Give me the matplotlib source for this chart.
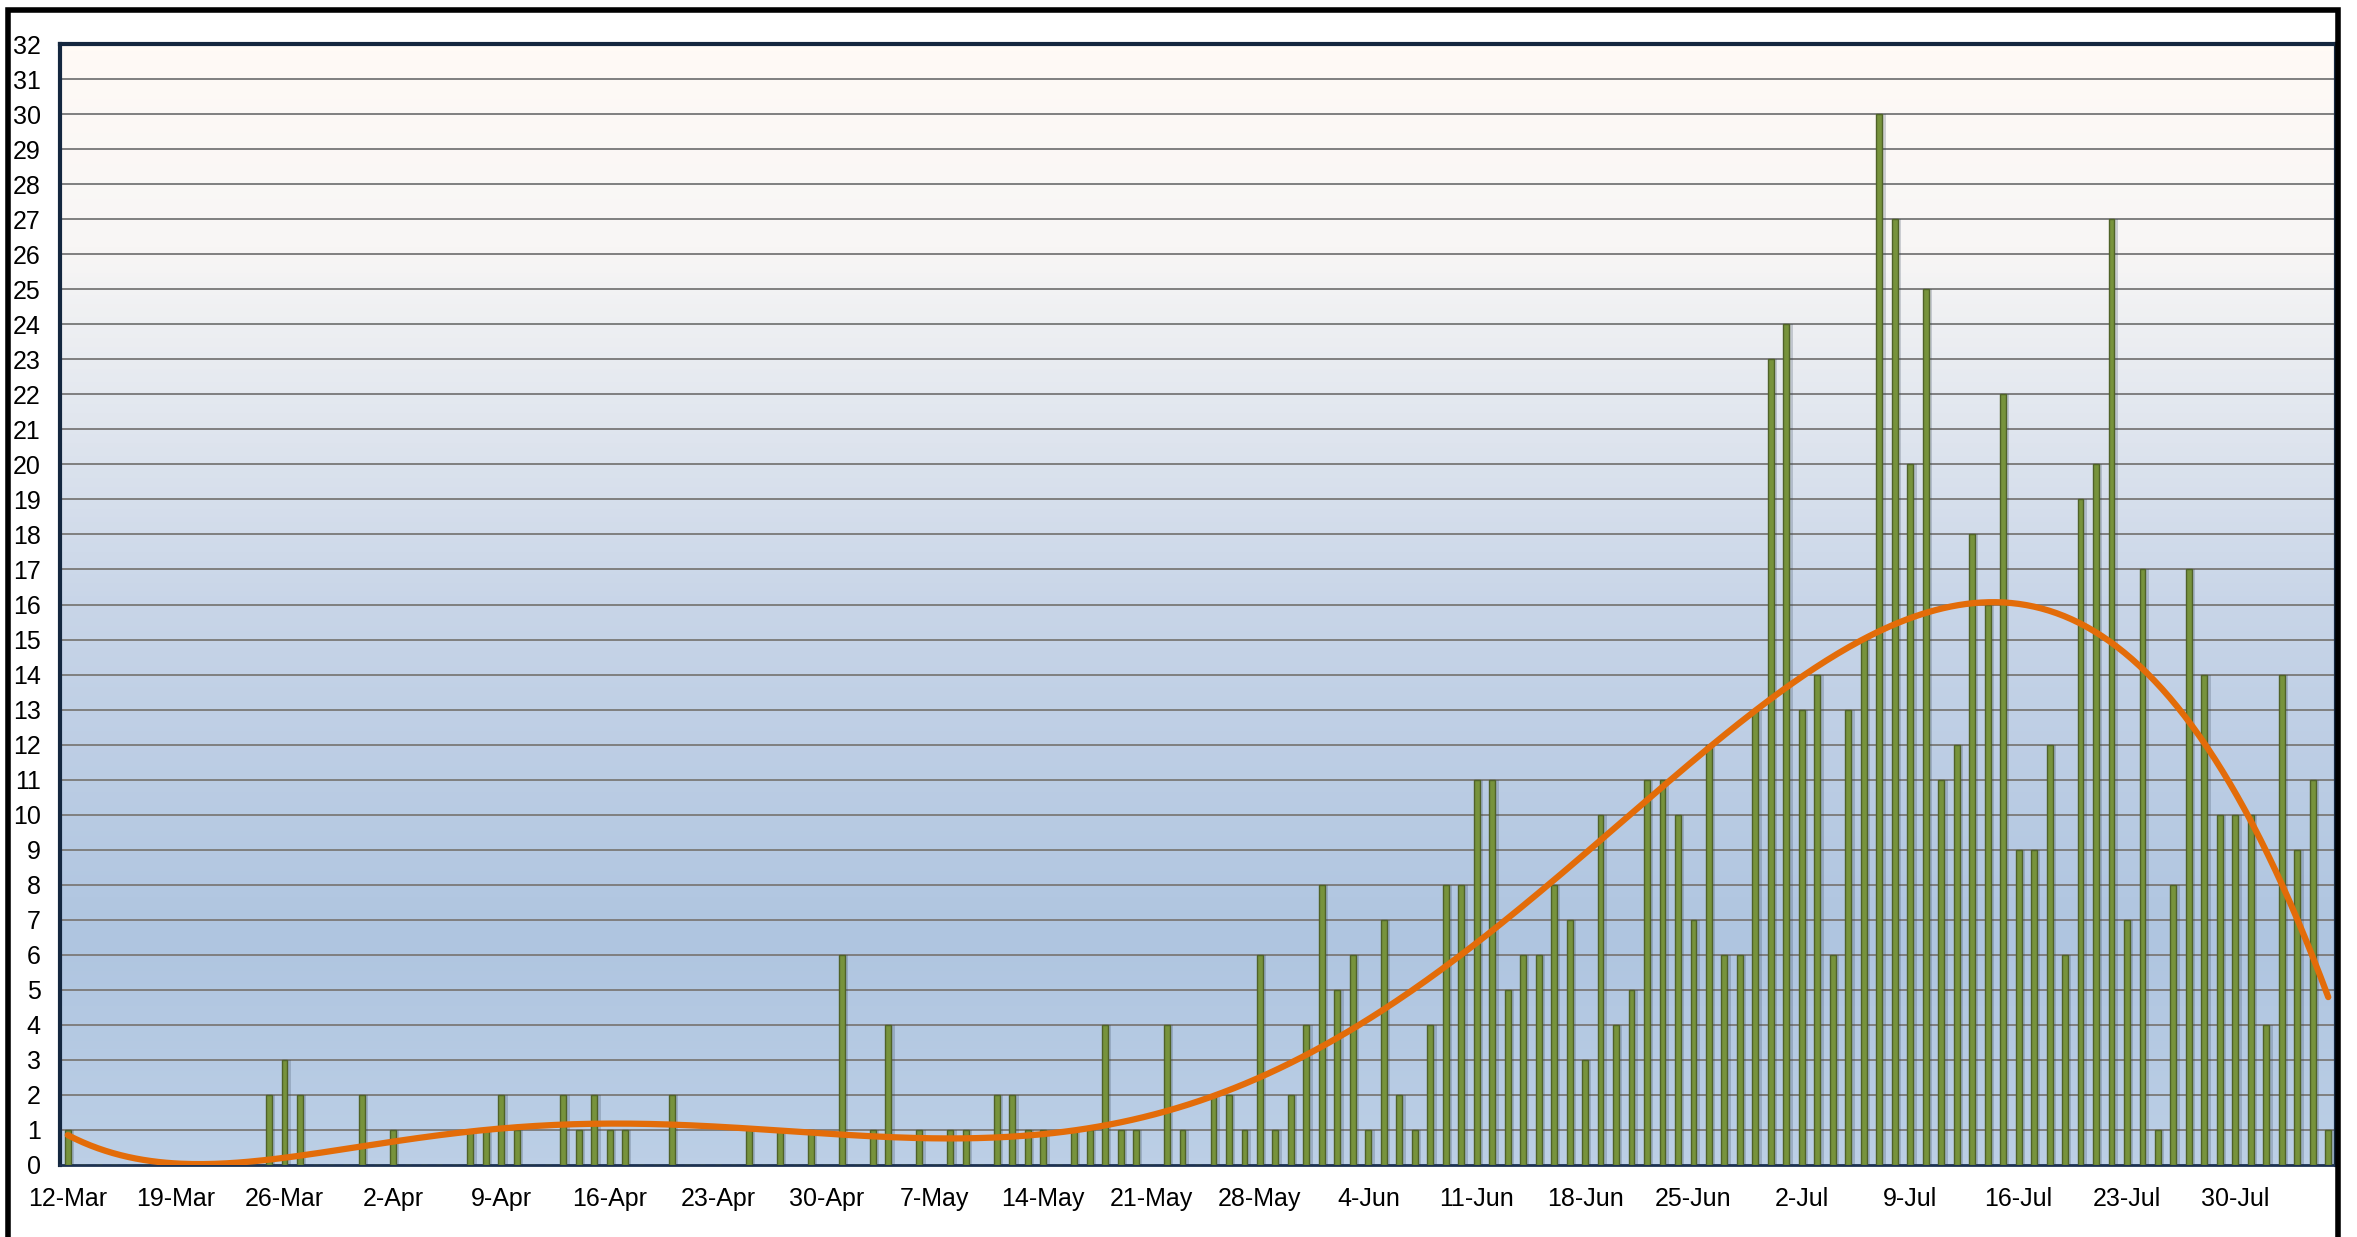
import numpy as np
import matplotlib
matplotlib.use("Agg")
import matplotlib.pyplot as plt
from matplotlib.colors import LinearSegmentedColormap
from matplotlib.patches import Rectangle

# daily counts, 12-Mar .. 5-Aug
mar = [1, 0, 0, 0, 0, 0, 0, 0, 0, 0, 0, 0, 0, 2, 3, 2, 0, 0, 0, 2]
apr = [0, 1, 0, 0, 0, 0, 1, 1, 2, 1, 0, 0, 2, 1, 2, 1, 1, 0, 0, 2,
       0, 0, 0, 0, 1, 0, 1, 0, 1, 0]
may = [6, 0, 1, 4, 0, 1, 0, 1, 1, 0, 2, 2, 1, 1, 0, 1, 1, 4, 1, 1,
       0, 4, 1, 0, 2, 2, 1, 6, 1, 2, 4]
jun = [8, 5, 6, 1, 7, 2, 1, 4, 8, 8, 11, 11, 5, 6, 6, 8, 7, 3, 10, 4,
       5, 11, 11, 10, 7, 12, 6, 6, 13, 23]
jul = [24, 13, 14, 6, 13, 15, 30, 27, 20, 25, 11, 12, 18, 16, 22, 9, 9, 12, 6, 19,
       20, 27, 7, 17, 1, 8, 17, 14, 10, 10, 10]
aug = [4, 14, 9, 11, 1]

counts = np.array(mar + apr + may + jun + jul + aug, dtype=float)
days = np.arange(len(counts))

tick_labels = ["12-Mar", "19-Mar", "26-Mar", "2-Apr", "9-Apr", "16-Apr", "23-Apr",
               "30-Apr", "7-May", "14-May", "21-May", "28-May", "4-Jun", "11-Jun",
               "18-Jun", "25-Jun", "2-Jul", "9-Jul", "16-Jul", "23-Jul", "30-Jul"]

plt.rcParams['font.family'] = ['Liberation Sans', 'DejaVu Sans']

W, H = 2357, 1237
fig = plt.figure(figsize=(W / 100, H / 100), dpi=100)
fig.patch.set_facecolor("white")
ax = fig.add_axes([60 / W, 1 - 1165 / H, (2336 - 60) / W, (1165 - 44) / H])

x0, x1 = -0.5, len(counts) - 0.5
ax.set_xlim(x0, x1)
ax.set_ylim(0, 32)

# gradient background, cream at top to blue at bottom
cmap = LinearSegmentedColormap.from_list("bg", [
    (0.0, "#bccfe6"), (0.2, "#afc5e0"), (0.5, "#c8d5e8"),
    (0.72, "#e9ecf1"), (0.82, "#f8f6f5"), (1.0, "#fffaf5")])
grad = np.linspace(0, 1, 256).reshape(-1, 1)
ax.imshow(grad, extent=[x0, x1, 0, 32], origin="lower", aspect="auto",
          cmap=cmap, zorder=0, interpolation="bicubic")

for v in range(1, 32):
    ax.axhline(v, color="#7f7f7f", lw=1.4, zorder=1)

# bar shadows then bars
ax.bar(days + 0.2, counts, width=0.42, color="#2f3e52", alpha=0.22, zorder=2, lw=0)
ax.bar(days, counts, width=0.38, color="#77933c", edgecolor="#4f6228", lw=1.0, zorder=3)

# polynomial trendline (order 6) through the daily counts
poly = np.polynomial.Polynomial.fit(days + 1, counts, 6)
xs = np.linspace(0, len(counts) - 1, 600)
ax.plot(xs, poly(xs + 1), color="#e36c09", lw=4.5, zorder=4, solid_capstyle="round")

ax.set_xticks(np.arange(0, len(counts), 7))
ax.set_xticklabels(tick_labels)
ax.set_yticks(np.arange(0, 33, 1))
ax.tick_params(axis="both", length=0, labelsize=18, colors="black")
ax.tick_params(axis="x", pad=16)
ax.tick_params(axis="y", pad=14)

for s in ax.spines.values():
    s.set_color("#14273f")
    s.set_linewidth(3)
ax.spines["bottom"].set_color("#1c3150")
ax.spines["bottom"].set_linewidth(2)

# outer frame of the chart area (cropped at the bottom)
fig.patches.append(Rectangle((8 / W, -0.05), (2338 - 8) / W, 1.05 - 10 / H,
                             transform=fig.transFigure, fill=False,
                             edgecolor="black", lw=4, zorder=10))

fig.savefig("out.png", dpi=100, facecolor="white")
